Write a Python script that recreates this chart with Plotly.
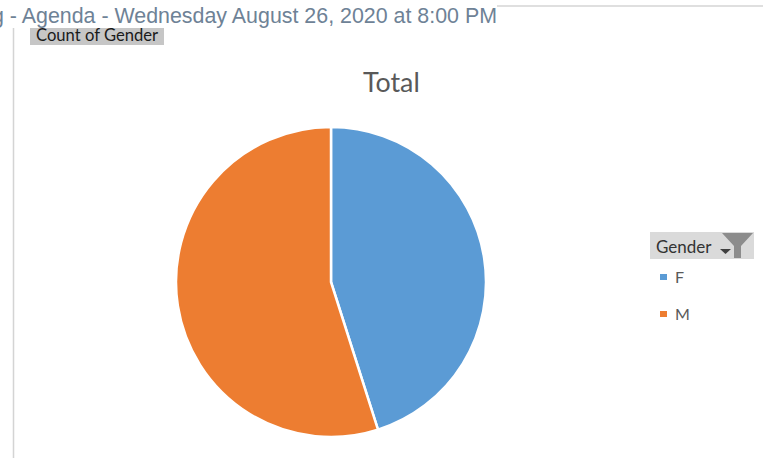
import plotly.graph_objects as go

W, H = 763, 458

categories = ["F", "M"]
counts = [45.1, 54.9]
colors = ["#5B9BD5", "#ED7D31"]
page_heading = "g - Agenda - Wednesday August 26, 2020 at 8:00 PM"
field_label = "Count of Gender"
chart_title = "Total"
legend_title = "Gender"
legend_rows_y = [277, 314]


def px(x):
    return x / W


def py(y):
    return 1 - y / H


def box(x0, y0, x1, y1, color):
    return dict(type="rect", xref="paper", yref="paper", x0=px(x0), x1=px(x1),
                y0=py(y1), y1=py(y0), fillcolor=color, line_width=0, layer="below")


def rule(x0, y0, x1, y1, color="#D4D4D4", width=1.5):
    return dict(type="line", xref="paper", yref="paper", x0=px(x0), x1=px(x1),
                y0=py(y0), y1=py(y1), line=dict(color=color, width=width), layer="below")


def label(text, x, y, size, color, family, anchor="left"):
    return dict(text=text, x=px(x), y=py(y), xref="paper", yref="paper", showarrow=False,
                xanchor=anchor, yanchor="middle", font=dict(size=size, color=color, family=family))


fig = go.Figure(go.Pie(
    labels=categories,
    values=counts,
    sort=False,
    direction="clockwise",
    rotation=0,
    textinfo="none",
    hoverinfo="label+percent",
    marker=dict(colors=colors, line=dict(color="white", width=2.5)),
    domain=dict(x=[px(176), px(486)], y=[py(438), py(126)]),
    showlegend=False,
))

shapes = [
    rule(13.5, 28, 13.5, H),
    rule(497, 6, W, 6),
    box(30, 28, 164, 45, "#C6C6C6"),
    box(650, 232, 754, 259, "#DADADA"),
    # filter funnel beside the legend heading
    dict(type="path", xref="paper", yref="paper", layer="below", fillcolor="#8C8C8C", line_width=0,
         path=f"M {px(722)},{py(233)} L {px(753)},{py(233)} L {px(741)},{py(246)} "
              f"L {px(741)},{py(258)} L {px(734)},{py(258)} L {px(734)},{py(246)} Z"),
    # sort arrow
    dict(type="path", xref="paper", yref="paper", layer="below", fillcolor="#404040", line_width=0,
         path=f"M {px(720)},{py(249)} L {px(731)},{py(249)} L {px(725.5)},{py(254)} Z"),
]
annotations = [
    label(field_label, 97, 35, 16.6, "#1A1A1A", "Lato", "center"),
    label(page_heading, 498.5, 16, 21.4, "#6E8296", "Liberation Sans", "right"),
    label(chart_title, 391, 82, 26.8, "#595959", "Lato", "center"),
    label(legend_title, 654, 246, 17, "#333333", "Lato"),
]
for name, color, y in zip(categories, colors, legend_rows_y):
    shapes.append(box(660, y - 3, 667, y + 3, color))
    annotations.append(label(name, 673, y - 1, 16, "#595959", "Lato"))

fig.update_layout(
    width=W,
    height=H,
    margin=dict(l=0, r=0, t=0, b=0),
    paper_bgcolor="white",
    shapes=shapes,
    annotations=annotations,
)
fig.write_html("out.html", config=dict(displayModeBar=False))
